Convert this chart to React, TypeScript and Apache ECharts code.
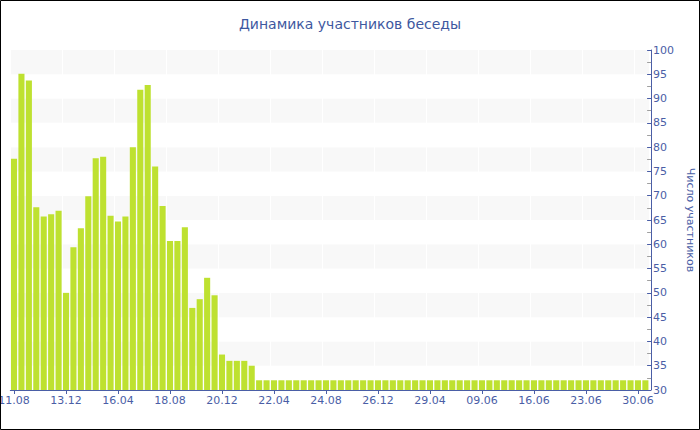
import React, { useEffect, useRef } from "react";
import * as echarts from "echarts";

const categories: string[] = [
  "11.08", "29.08", "16.09", "04.10", "22.10", "08.11", "26.11",
  "13.12", "31.12", "17.01", "04.02", "22.02", "11.03", "29.03",
  "16.04", "04.05", "22.05", "08.06", "26.06", "14.07", "31.07",
  "18.08", "05.09", "23.09", "10.10", "28.10", "15.11", "02.12",
  "20.12", "07.01", "25.01", "11.02", "01.03", "19.03", "05.04",
  "22.04", "10.05", "28.05", "14.06", "02.07", "20.07", "06.08",
  "24.08", "11.09", "29.09", "16.10", "03.11", "21.11", "08.12",
  "26.12", "13.01", "31.01", "17.02", "07.03", "25.03", "11.04",
  "29.04", "05.05", "11.05", "17.05", "23.05", "29.05", "03.06",
  "09.06", "10.06", "11.06", "12.06", "13.06", "14.06", "15.06",
  "16.06", "17.06", "18.06", "19.06", "20.06", "21.06", "22.06",
  "23.06", "24.06", "25.06", "26.06", "27.06", "28.06", "29.06",
  "30.06", "01.07",
];

const participants: number[] = [
  77.6, 95.1, 93.7, 67.6, 65.7, 66.2, 66.9,
  50.0, 59.4, 63.3, 69.9, 77.7, 78.0, 65.9,
  64.7, 65.7, 80.0, 91.8, 92.8, 76.0, 67.9,
  60.7, 60.7, 63.5, 46.9, 48.7, 53.1, 49.5,
  37.3, 36.0, 36.0, 36.0, 35.0, 32, 32,
  32, 32, 32, 32, 32, 32, 32,
  32, 32, 32, 32, 32, 32, 32,
  32, 32, 32, 32, 32, 32, 32,
  32, 32, 32, 32, 32, 32, 32,
  32, 32, 32, 32, 32, 32, 32,
  32, 32, 32, 32, 32, 32, 32,
  32, 32, 32, 32, 32, 32, 32,
  32, 32,
];

const yMin = 30;
const yMax = 100;
const yInterval = 5;

const titleText = "Динамика участников беседы";
const yName = "Число участников";

const BLUE = "#4a5ea6";
const FONT = "DejaVu Sans, Verdana, sans-serif";

export default function App() {
  const ref = useRef<HTMLDivElement>(null);
  useEffect(() => {
    if (!ref.current) return;
    const chart = echarts.init(ref.current, null, { renderer: "svg" });
    chart.setOption({
      animation: false,
      backgroundColor: "#ffffff",
      textStyle: { fontFamily: FONT },
      title: {
        text: titleText,
        left: "center",
        top: 12,
        textStyle: {
          color: "#3e58a0",
          fontSize: 14,
          fontWeight: "normal",
          fontFamily: FONT,
        },
      },
      graphic: [
        {
          type: "rect",
          shape: { x: 0.5, y: 0.5, width: 699, height: 429 },
          style: { fill: "none", stroke: "#000000", lineWidth: 1 },
          z: 100,
        },
      ],
      grid: {
        left: 10.3,
        right: 50.9,
        top: 50,
        bottom: 40,
        containLabel: false,
        outerBoundsMode: "none",
      },
      xAxis: {
        type: "category",
        data: categories,
        boundaryGap: true,
        axisLine: { show: true, lineStyle: { color: BLUE, width: 1 } },
        axisTick: {
          show: true,
          interval: 6,
          alignWithLabel: true,
          length: 4,
          lineStyle: { color: BLUE },
        },
        axisLabel: {
          interval: 6,
          margin: 5,
          color: BLUE,
          fontSize: 11,
          fontFamily: FONT,
          hideOverlap: false,
        },
        splitLine: {
          show: true,
          interval: 6,
          lineStyle: { color: "#ffffff", width: 1 },
        },
      },
      yAxis: {
        type: "value",
        position: "right",
        offset: 2,
        min: yMin,
        max: yMax,
        interval: yInterval,
        name: yName,
        nameLocation: "middle",
        nameRotate: -90,
        nameGap: 34,
        nameTextStyle: { color: BLUE, fontSize: 11, fontFamily: FONT },
        axisLine: { show: true, lineStyle: { color: BLUE, width: 1 } },
        axisTick: { show: true, inside: true, length: 4, lineStyle: { color: BLUE } },
        minorTick: { show: true, splitNumber: 2, length: 4, lineStyle: { color: "#a0a0a0" } },
        axisLabel: { margin: 2, color: BLUE, fontSize: 11, fontFamily: FONT },
        splitLine: { show: false },
        splitArea: { show: true, areaStyle: { color: ["#ffffff", "#f8f8f8"] } },
      },
      series: [
        {
          type: "bar",
          data: participants,
          barCategoryGap: "18%",
          itemStyle: { color: "#bee130" },
        },
      ],
    });
    return () => chart.dispose();
  }, []);
  return (
    <div
      ref={ref}
      style={{ position: "fixed", left: 0, top: 0, width: 700, height: 430 }}
    />
  );
}
